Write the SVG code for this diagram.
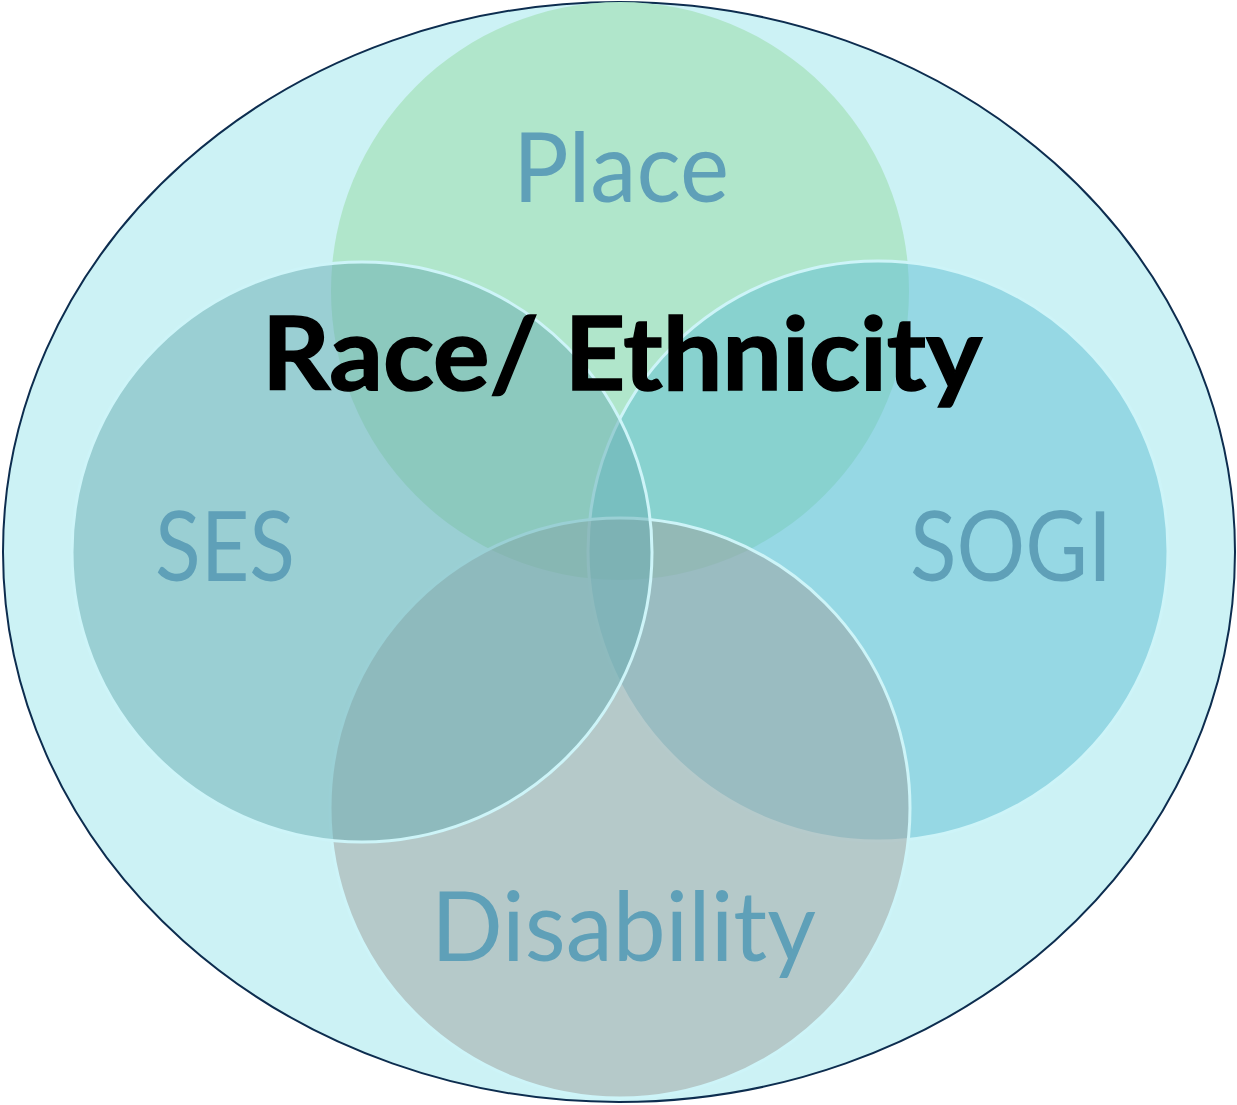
<svg xmlns="http://www.w3.org/2000/svg" width="1237" height="1105" viewBox="0 0 1237 1105">
<style>
.c{stroke:#cdf4f8;stroke-width:3;fill-opacity:0.5}
.lbl{font-family:Lato,"Open Sans","Liberation Sans",sans-serif;font-size:97px;fill:#5fa0b8}
.main{font-family:Lato,"Open Sans","Liberation Sans",sans-serif;font-size:101px;font-weight:bold;fill:#000;stroke:#000;stroke-width:1.5}
</style>
<rect width="1237" height="1105" fill="#ffffff"/>
<g id="outer">
<ellipse cx="619" cy="552" rx="616" ry="550" fill="#ccf2f5" stroke="#0d2d4f" stroke-width="2"/>
</g>
<g id="place">
<circle cx="620" cy="291" r="289" fill="#b0e6cb" stroke="none"/>
</g>
<g id="sogi">
<circle class="c" cx="878" cy="551" r="290" fill="#60bed4"/>
</g>
<g id="disability">
<circle class="c" cx="620" cy="808" r="290" fill="#9ea09e"/>
</g>
<g id="ses">
<circle class="c" cx="362" cy="552" r="290" fill="#68acb2"/>
</g>
<g id="connectors"></g>
<g id="labels">
<text class="lbl" x="513" y="202" textLength="216" lengthAdjust="spacingAndGlyphs">Place</text>
<text class="lbl" x="155" y="581" textLength="140" lengthAdjust="spacingAndGlyphs">SES</text>
<text class="lbl" x="910" y="581" textLength="202" lengthAdjust="spacingAndGlyphs">SOGI</text>
<text class="lbl" x="431" y="961" textLength="385" lengthAdjust="spacingAndGlyphs">Disability</text>
<text class="main" x="262" y="390" textLength="720" lengthAdjust="spacingAndGlyphs">Race/ Ethnicity</text>
</g>
</svg>
